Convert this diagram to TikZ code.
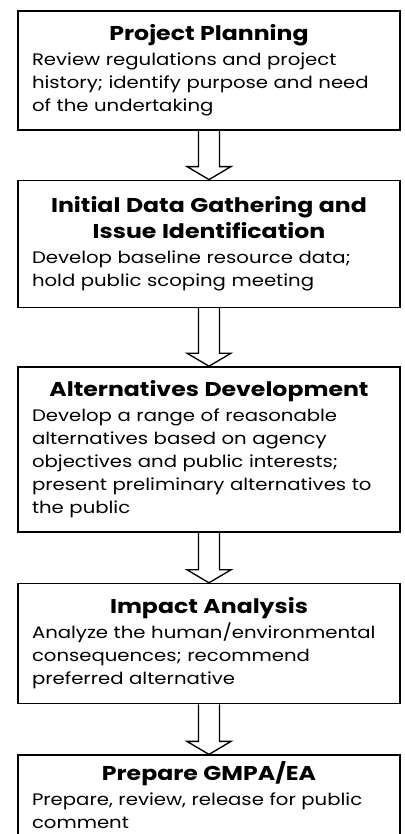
\documentclass[tikz,border=0pt]{standalone}
\usepackage{fontspec}
\setmainfont{Poppins}[FakeStretch=1.18]
\usetikzlibrary{positioning,calc}

\newcommand{\stagetitle}[1]{{\centering\fontsize{15pt}{19.5pt}\selectfont\bfseries #1\par}\vspace{1.5pt}\raggedright}
\newcommand{\blockarrow}[2]{%
  \draw[arrow line] ($(#1.south)+(-10.5,0)$) -- ($(#2.north)+(-10.5,-13)$) -- ($(#2.north)+(-22,-13)$) -- (#2.north)
    -- ($(#2.north)+(22,-13)$) -- ($(#2.north)+(10.5,-13)$) -- ($(#1.south)+(10.5,0)$);}

\begin{document}
\begin{tikzpicture}[x=0.75pt, y=-0.75pt,
    stage/.style={draw, line width=1.2pt, text width=265.5pt, inner xsep=10.5pt, inner ysep=0pt,
      font=\fontsize{12.5pt}{17.25pt}\selectfont},
    arrow line/.style={line width=1pt, line join=miter}]
  \useasboundingbox (0,0) rectangle (404,834);
  \node[stage, minimum height=89.25pt, anchor=north] (1) at (209,10) {\stagetitle{Project Planning}Review regulations and project\\ history; identify purpose and need\\ of the undertaking};
  \node[stage, minimum height=95.25pt] (2) [below=36.75pt of 1] {\stagetitle{Initial Data Gathering and\\ Issue Identification}Develop baseline resource data;\\ hold public scoping meeting};
  \node[stage, minimum height=123.75pt] (3) [below=43.5pt of 2] {\stagetitle{Alternatives Development}Develop a range of reasonable\\ alternatives based on agency\\ objectives and public interests;\\ present preliminary alternatives to\\ the public};
  \node[stage, minimum height=90pt] (4) [below=37.5pt of 3] {\stagetitle{Impact Analysis}Analyze the human/environmental\\ consequences; recommend\\ preferred alternative};
  \node[stage, minimum height=60pt] (5) [below=37.5pt of 4] {\stagetitle{Prepare GMPA/EA}Prepare, review, release for public\\ comment};
  \blockarrow{1}{2}
  \blockarrow{2}{3}
  \blockarrow{3}{4}
  \blockarrow{4}{5}
\end{tikzpicture}
\end{document}
